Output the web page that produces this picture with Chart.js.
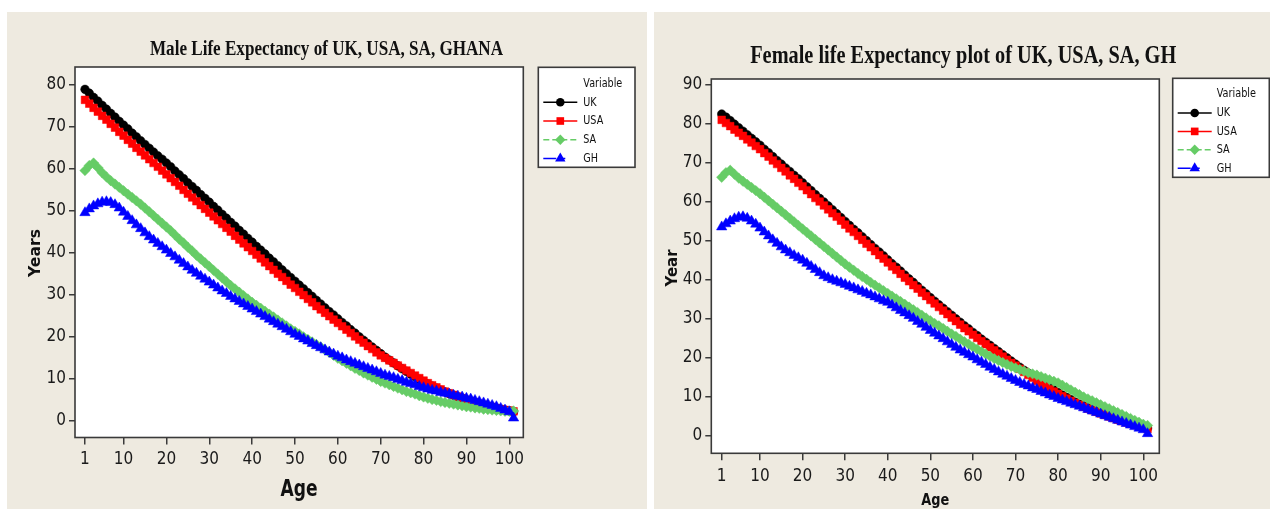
<!DOCTYPE html>
<html><head><meta charset="utf-8">
<script src="https://cdn.jsdelivr.net/npm/chart.js@4.4.1/dist/chart.umd.min.js"></script>
<style>
html,body{margin:0;padding:0;background:#fff;width:1270px;height:509px;overflow:hidden;}
.panel{position:absolute;background:#EEEAE0;}
#p1{left:7px;top:12px;width:640px;height:497px;}
#p2{left:654px;top:12px;width:616px;height:497px;}
canvas{display:block;}
</style></head><body>
<div class="panel" id="p1"><canvas id="c1" width="640" height="497"></canvas></div>
<div class="panel" id="p2"><canvas id="c2" width="616" height="497"></canvas></div>
<script>
// ---------- data ----------
const ages = [1,2,3,4,5,6,7,8,9,10,11,12,13,14,15,16,17,18,19,20,21,22,23,24,25,26,27,28,29,30,
31,32,33,34,35,36,37,38,39,40,41,42,43,44,45,46,47,48,49,50,51,52,53,54,55,56,57,58,59,60,
61,62,63,64,65,66,67,68,69,70,71,72,73,74,75,76,77,78,79,80,81,82,83,84,85,86,87,88,89,90,
91,92,93,94,95,96,97,98,99,100,101];
const xTickValues = [1,10,20,30,40,50,60,70,80,90,100];
const maleYTicks = [0,10,20,30,40,50,60,70,80];
const femaleYTicks = [0,10,20,30,40,50,60,70,80,90];
const seriesNames = ['UK','USA','SA','GH'];
const maleTitle = 'Male Life Expectancy of UK, USA, SA, GHANA';
const femaleTitle = 'Female life Expectancy plot of UK, USA, SA, GH';
const maleYLabel = 'Years';
const femaleYLabel = 'Year';
const xLabel = 'Age';
const legendTitle = 'Variable';

const maleUK = [78.8,77.9,76.9,76.0,75.0,74.1,73.1,72.2,71.2,70.3,
69.4,68.4,67.5,66.6,65.7,64.8,63.9,63.0,62.2,61.3,
60.4,59.4,58.5,57.6,56.6,55.7,54.8,53.8,52.9,52.0,
51.0,50.1,49.1,48.2,47.2,46.3,45.3,44.4,43.4,42.5,
41.5,40.6,39.7,38.7,37.8,36.9,35.9,35.0,34.1,33.2,
32.3,31.4,30.5,29.6,28.7,27.8,26.9,26.0,25.2,24.3,
23.4,22.6,21.7,20.9,20.0,19.2,18.4,17.6,16.8,16.0,
15.2,14.5,13.8,13.1,12.4,11.8,11.1,10.5,9.9,9.3,
8.8,8.3,7.8,7.3,6.9,6.5,6.1,5.7,5.4,5.0,
4.7,4.4,4.1,3.8,3.5,3.3,3.0,2.8,2.6,2.4,
2.2];
const maleUSA = [76.3,75.4,74.4,73.5,72.5,71.6,70.6,69.7,68.7,67.8,
66.8,65.9,64.9,64.0,63.1,62.2,61.3,60.4,59.5,58.6,
57.7,56.8,55.9,54.9,54.0,53.1,52.2,51.3,50.4,49.5,
48.6,47.7,46.8,45.9,45.0,44.0,43.1,42.2,41.3,40.4,
39.5,38.6,37.7,36.8,35.9,35.0,34.2,33.3,32.4,31.6,
30.7,29.9,29.0,28.2,27.3,26.5,25.7,24.9,24.1,23.3,
22.5,21.7,20.9,20.1,19.3,18.6,17.8,17.1,16.3,15.6,
15.0,14.4,13.8,13.2,12.6,12.0,11.4,10.8,10.2,9.6,
9.0,8.5,8.0,7.5,7.0,6.6,6.2,5.8,5.4,5.0,
4.7,4.4,4.1,3.8,3.5,3.3,3.0,2.8,2.6,2.5,
2.3];
const maleSA = [59.5,60.7,61.3,60.2,59.0,58.0,57.1,56.3,55.5,54.7,
53.9,53.1,52.3,51.5,50.6,49.7,48.8,47.9,47.0,46.1,
45.2,44.2,43.2,42.3,41.3,40.4,39.4,38.5,37.6,36.7,
35.8,34.9,34.0,33.1,32.2,31.4,30.6,29.8,29.0,28.2,
27.5,26.8,26.1,25.4,24.7,24.0,23.3,22.6,21.9,21.3,
20.7,20.0,19.4,18.8,18.2,17.6,16.9,16.3,15.6,14.9,
14.3,13.7,13.1,12.5,12.0,11.4,10.9,10.4,9.9,9.4,
9.0,8.6,8.2,7.8,7.4,7.0,6.7,6.4,6.0,5.7,
5.4,5.1,4.9,4.6,4.4,4.2,4.0,3.8,3.6,3.4,
3.3,3.1,3.0,2.8,2.7,2.6,2.5,2.4,2.3,2.3,
2.4];
const maleGH = [49.5,50.4,51.1,51.6,52.0,52.1,51.9,51.4,50.6,49.6,
48.6,47.6,46.6,45.7,44.7,43.8,43.0,42.2,41.4,40.6,
39.8,39.0,38.2,37.4,36.6,35.8,35.1,34.4,33.7,33.0,
32.3,31.6,30.9,30.3,29.6,29.0,28.4,27.8,27.2,26.6,
26.0,25.4,24.8,24.2,23.6,23.0,22.4,21.8,21.2,20.6,
20.1,19.5,19.0,18.4,17.9,17.4,16.9,16.4,15.9,15.4,
15.0,14.5,14.1,13.7,13.3,12.9,12.5,12.1,11.7,11.3,
10.9,10.6,10.3,9.9,9.6,9.2,8.9,8.6,8.2,7.9,
7.6,7.3,7.1,6.8,6.6,6.4,6.1,5.9,5.7,5.4,
5.2,4.9,4.6,4.3,4.0,3.7,3.4,3.0,2.6,2.2,
0.7];

const femaleUK = [82.4,81.6,80.7,79.8,78.9,78.0,77.1,76.2,75.3,74.4,
73.4,72.5,71.5,70.5,69.6,68.6,67.7,66.7,65.8,64.8,
63.8,62.8,61.8,60.8,59.9,58.9,57.9,56.9,55.9,54.9,
53.9,52.9,52.0,51.0,50.0,49.0,48.0,47.1,46.1,45.1,
44.1,43.2,42.2,41.2,40.2,39.3,38.3,37.3,36.4,35.4,
34.5,33.6,32.7,31.8,30.9,30.0,29.1,28.2,27.4,26.5,
25.7,24.8,24.0,23.2,22.4,21.6,20.8,20.0,19.2,18.4,
17.6,16.8,16.1,15.3,14.6,13.9,13.2,12.5,11.8,11.1,
10.5,9.9,9.3,8.7,8.2,7.7,7.2,6.7,6.3,5.9,
5.5,5.1,4.7,4.3,4.0,3.6,3.3,3.0,2.7,2.4,
2.0];
const femaleUSA = [80.9,80.1,79.3,78.4,77.6,76.8,75.9,75.1,74.2,73.4,
72.4,71.5,70.5,69.6,68.6,67.7,66.7,65.8,64.8,63.9,
62.9,61.9,60.9,60.0,59.0,58.0,57.0,56.1,55.1,54.1,
53.1,52.2,51.2,50.2,49.2,48.3,47.3,46.3,45.4,44.4,
43.4,42.5,41.5,40.5,39.6,38.6,37.7,36.7,35.8,34.8,
33.9,33.0,32.1,31.2,30.3,29.4,28.5,27.6,26.8,25.9,
25.1,24.3,23.5,22.7,21.9,21.1,20.3,19.5,18.7,18.0,
17.2,16.4,15.6,14.9,14.1,13.4,12.7,12.0,11.4,10.8,
10.2,9.6,9.0,8.5,8.0,7.5,7.0,6.6,6.2,5.8,
5.4,5.0,4.6,4.2,3.8,3.5,3.1,2.8,2.5,2.2,
1.8];
const femaleSA = [66.2,67.4,68.0,67.0,66.0,65.2,64.4,63.6,62.8,62.0,
61.1,60.2,59.3,58.4,57.5,56.6,55.7,54.8,53.9,53.0,
52.1,51.2,50.3,49.4,48.5,47.6,46.7,45.8,44.9,44.0,
43.2,42.4,41.6,40.8,40.1,39.3,38.6,37.9,37.2,36.5,
35.8,35.1,34.4,33.7,33.0,32.3,31.6,30.9,30.2,29.5,
28.8,28.2,27.5,26.8,26.1,25.5,24.8,24.1,23.5,22.8,
22.2,21.6,21.0,20.4,19.8,19.3,18.8,18.3,17.8,17.4,
17.0,16.6,16.2,15.9,15.6,15.2,14.8,14.4,14.0,13.6,
13.0,12.4,11.8,11.2,10.6,10.0,9.5,9.0,8.5,8.0,
7.5,7.0,6.5,6.0,5.5,5.0,4.5,4.0,3.5,3.0,
2.7];
const femaleGH = [53.5,54.3,55.0,55.6,56.0,56.1,55.7,55.0,54.2,53.2,
52.2,51.2,50.2,49.3,48.4,47.6,46.9,46.2,45.6,45.0,
44.2,43.4,42.6,41.8,41.0,40.5,40.0,39.6,39.2,38.8,
38.3,37.9,37.4,37.0,36.5,36.1,35.6,35.1,34.6,34.2,
33.5,32.8,32.1,31.5,30.8,30.1,29.3,28.6,27.8,27.0,
26.3,25.6,24.9,24.1,23.4,22.7,22.0,21.4,20.8,20.2,
19.5,18.9,18.3,17.6,17.0,16.4,15.8,15.3,14.7,14.2,
13.7,13.2,12.8,12.3,11.9,11.4,11.0,10.5,10.1,9.6,
9.2,8.8,8.4,8.0,7.6,7.2,6.8,6.4,6.0,5.6,
5.2,4.8,4.4,4.0,3.6,3.2,2.8,2.4,2.0,1.6,
0.6];

// ---------- styling ----------
const seriesStyles = [
  {color:'#000000', pointStyle:'circle',   radius:4.3, dash:[],        order:4},
  {color:'#FF0000', pointStyle:'rect',     radius:5.4, dash:[],        order:3},
  {color:'#66CC66', pointStyle:'rectRot',  radius:5.2, dash:[5,3],     order:2},
  {color:'#0000FF', pointStyle:'triangle', radius:6.0, dash:[10,4,3,4],order:1}
];
const TICK_FONT = "'Liberation Sans Narrow','DejaVu Sans Condensed','Arial Narrow',sans-serif";

function fitText(ctx, text, x, y, font, opt) {
  opt = opt || {};
  ctx.save();
  ctx.font = font;
  const w = ctx.measureText(text).width;
  const sx = opt.width ? opt.width / w : (opt.sx || 1);
  ctx.translate(x, y);
  if (opt.rot) ctx.rotate(opt.rot);
  ctx.scale(sx, 1);
  ctx.textAlign = opt.align || 'center';
  ctx.textBaseline = opt.baseline || 'alphabetic';
  ctx.fillStyle = opt.color || '#000';
  ctx.fillText(text, 0, 0);
  ctx.restore();
  return sx;
}
function drawMarker(ctx, style, x, y, r) {
  ctx.beginPath();
  if (style === 'circle') ctx.arc(x, y, r, 0, Math.PI * 2);
  else if (style === 'rect') { const s = r * Math.SQRT1_2; ctx.rect(x - s, y - s, 2 * s, 2 * s); }
  else if (style === 'rectRot') { ctx.moveTo(x, y - r); ctx.lineTo(x + r, y); ctx.lineTo(x, y + r); ctx.lineTo(x - r, y); ctx.closePath(); }
  else if (style === 'triangle') { const h = r * Math.sin(Math.PI / 3); ctx.moveTo(x, y - r); ctx.lineTo(x + h, y + r / 2); ctx.lineTo(x - h, y + r / 2); ctx.closePath(); }
  ctx.fill();
}

const decorPlugin = {
  id: 'decor',
  beforeDraw(chart, args, o) {
    const a = chart.chartArea, ctx = chart.ctx;
    ctx.save(); ctx.fillStyle = '#FFFFFF';
    ctx.fillRect(a.left, a.top, a.right - a.left, a.bottom - a.top);
    ctx.restore();
  },
  afterDraw(chart, args, o) {
    const a = chart.chartArea, ctx = chart.ctx;
    ctx.save();
    ctx.strokeStyle = '#3a3a3a'; ctx.lineWidth = 1.6;
    ctx.strokeRect(a.left, a.top, a.right - a.left, a.bottom - a.top);
    ctx.restore();
    // titles
    fitText(ctx, o.title, o.titleX, o.titleY, o.titleFont, {width: o.titleW, color:'#111'});
    fitText(ctx, o.yLabel, o.yLabX, o.yLabY, o.yLabFont, {width: o.yLabW, rot: -Math.PI/2, baseline:'middle', color:'#111'});
    fitText(ctx, o.xLabel, o.xLabX, o.xLabY, o.xLabFont, {width: o.xLabW, color:'#111'});
    // legend
    const L = o.legend;
    ctx.save();
    ctx.fillStyle = '#FFFFFF'; ctx.fillRect(L.x, L.y, L.w, L.h);
    ctx.strokeStyle = '#3a3a3a'; ctx.lineWidth = 1.6; ctx.strokeRect(L.x, L.y, L.w, L.h);
    ctx.restore();
    const sx = fitText(ctx, o.legendTitle, L.x + L.tx, L.y + L.titleDy, L.font, {width: L.titleW, align:'left', baseline:'middle', color:'#111'});
    chart.data.datasets.forEach((ds, i) => {
      const st = seriesStyles[i];
      const y = L.y + L.firstDy + i * L.step;
      ctx.save();
      ctx.strokeStyle = st.color; ctx.lineWidth = 1.5;
      ctx.setLineDash(st.dash.length ? (i === 3 ? [13, 5, 4, 100] : [6, 3]) : []);
      ctx.beginPath(); ctx.moveTo(L.x + 5, y); ctx.lineTo(L.x + 39, y); ctx.stroke();
      ctx.setLineDash([]);
      ctx.fillStyle = st.color;
      drawMarker(ctx, st.pointStyle, L.x + 22, y, st.radius);
      ctx.restore();
      fitText(ctx, ds.label, L.x + L.tx, y, L.font, {sx: sx, align:'left', baseline:'middle', color:'#111'});
    });
  }
};

function makeChart(id, series, cfg) {
  const datasets = series.map((vals, i) => {
    const st = seriesStyles[i];
    return {
      label: seriesNames[i],
      data: ages.map((a, k) => ({x: a, y: vals[k]})),
      borderColor: st.color, backgroundColor: st.color,
      borderWidth: 1.5, borderDash: st.dash,
      pointStyle: st.pointStyle, pointRadius: st.radius,
      pointBackgroundColor: st.color, pointBorderColor: st.color, pointBorderWidth: 0.5,
      order: st.order, tension: 0
    };
  });
  return new Chart(document.getElementById(id), {
    type: 'line',
    data: {datasets},
    plugins: [decorPlugin],
    options: {
      responsive: false, animation: false, devicePixelRatio: 1,
      layout: {padding: cfg.padding},
      plugins: {legend: {display: false}, tooltip: {enabled: false}, decor: cfg.decor},
      scales: {
        x: {
          type: 'linear', min: cfg.xMin, max: cfg.xMax,
          afterBuildTicks: s => { s.ticks = xTickValues.map(v => ({value: v})); },
          afterFit: s => { s.height = cfg.xHeight; },
          ticks: {font: {family: TICK_FONT, size: 17}, color: '#1a1a1a', padding: cfg.xPad, maxRotation: 0, autoSkip: false},
          grid: {drawOnChartArea: false, drawTicks: true, tickLength: 7, color: '#3a3a3a', lineWidth: 1.5},
          border: {display: false}
        },
        y: {
          type: 'linear', min: cfg.yMin, max: cfg.yMax,
          afterBuildTicks: s => { s.ticks = cfg.yTicks.map(v => ({value: v})); },
          afterFit: s => { s.width = cfg.yWidth; },
          ticks: {font: {family: TICK_FONT, size: 17}, color: '#1a1a1a', padding: 3, autoSkip: false},
          grid: {drawOnChartArea: false, drawTicks: true, tickLength: 6, color: '#3a3a3a', lineWidth: 1.5},
          border: {display: false}
        }
      }
    }
  });
}

makeChart('c1', [maleUK, maleUSA, maleSA, maleGH], {
  padding: {top: 55, right: 123.7, left: 0, bottom: 0},
  xHeight: 71.5, yWidth: 68, xPad: 5,
  xMin: -1.33, xMax: 103.27, yMin: -3.92, yMax: 84.11, yTicks: maleYTicks,
  decor: {
    title: maleTitle, titleX: 319.5, titleY: 43, titleFont: "bold 20px 'Liberation Serif'", titleW: 353,
    yLabel: maleYLabel, yLabX: 29, yLabY: 241, yLabFont: "bold 16px 'DejaVu Sans'", yLabW: 48,
    xLabel: xLabel, xLabX: 292, xLabY: 483.5, xLabFont: "bold 23px 'DejaVu Sans'", xLabW: 37,
    legendTitle: legendTitle,
    legend: {x: 531.3, y: 55.3, w: 96.7, h: 100, tx: 45, titleDy: 16, firstDy: 35, step: 18.7, font: "13px 'DejaVu Sans'", titleW: 39}
  }
});

makeChart('c2', [femaleUK, femaleUSA, femaleSA, femaleGH], {
  padding: {top: 67, right: 110.7, left: 0, bottom: 0},
  xHeight: 55.7, yWidth: 57.3, xPad: 6,
  xMin: -1.44, xMax: 103.76, yMin: -4.43, yMax: 91.36, yTicks: femaleYTicks,
  decor: {
    title: femaleTitle, titleX: 309.2, titleY: 51.3, titleFont: "bold 25px 'Liberation Serif'", titleW: 426,
    yLabel: femaleYLabel, yLabX: 18.5, yLabY: 256, yLabFont: "bold 15.5px 'DejaVu Sans'", yLabW: 37,
    xLabel: xLabel, xLabX: 281.3, xLabY: 493, xLabFont: "bold 16px 'DejaVu Sans'", xLabW: 28,
    legendTitle: legendTitle,
    legend: {x: 518.7, y: 66.3, w: 96.6, h: 99, tx: 44, titleDy: 15.7, firstDy: 34.7, step: 18.4, font: "13px 'DejaVu Sans'", titleW: 39.3}
  }
});
</script>
</body></html>
